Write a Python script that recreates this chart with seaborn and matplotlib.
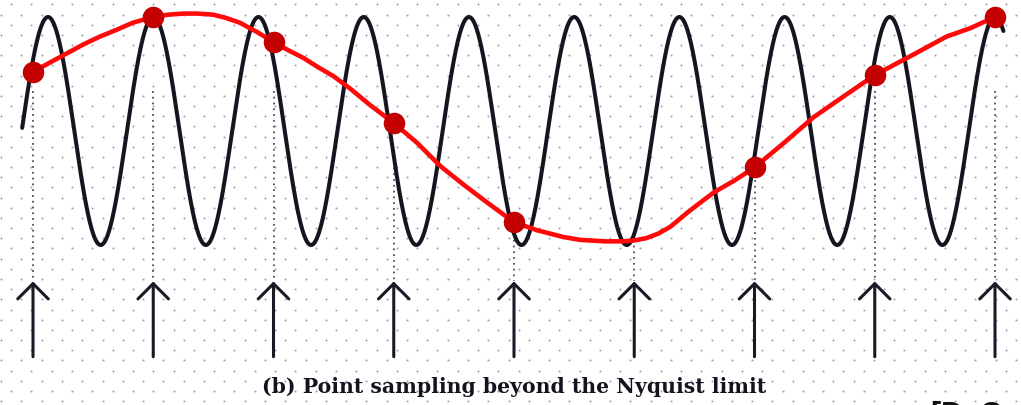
import numpy as np
import matplotlib
matplotlib.use("Agg")
import matplotlib.pyplot as plt
import seaborn as sns

# ---------------- data ----------------
# sampling instants (one sampling interval = 1 unit)
sample_t = [0, 1, 2, 3, 4, 5, 6, 7, 8]

# red sample markers (no marker drawn at sample 5 in the reference)
marker_t = [0, 1, 2, 3, 4, 6, 7, 8]
marker_v = [0.52, 1.00, 0.78, 0.07, -0.80, -0.32, 0.49, 1.00]

# red aliased curve
red_t = [0.00, 0.14, 0.28, 0.42, 0.56, 0.70, 0.83, 1.00, 1.12, 1.25, 1.37,
         1.50, 1.61, 1.72, 1.86, 2.00, 2.12, 2.25, 2.37, 2.50, 2.64, 2.80,
         3.00, 3.19, 3.39, 3.58, 3.78, 4.00, 4.19, 4.41, 4.55, 4.76, 4.91,
         5.00, 5.10, 5.20, 5.30, 5.46, 5.66, 5.84, 6.00, 6.25, 6.49, 6.75,
         7.00, 7.16, 7.32, 7.46, 7.60, 7.79, 8.00]
red_v = [0.52, 0.60, 0.68, 0.76, 0.83, 0.89, 0.95, 1.00, 1.02, 1.03, 1.03,
         1.02, 0.99, 0.95, 0.87, 0.78, 0.71, 0.64, 0.56, 0.48, 0.37, 0.23,
         0.07, -0.10, -0.31, -0.47, -0.63, -0.80, -0.87, -0.93, -0.955,
         -0.968, -0.968, -0.96, -0.94, -0.90, -0.84, -0.70, -0.54, -0.43,
         -0.32, -0.10, 0.12, 0.31, 0.49, 0.58, 0.67, 0.75, 0.83, 0.90, 1.00]

# high-frequency black signal: parameters
signal_cycles_per_sample = 1.1428   # about 8 cycles every 7 samples
signal_peak_t = 1.0                 # a crest lines up with sample 1
signal_start_t = -0.09
signal_end_t = 8.07

caption = "(b) Point sampling beyond the Nyquist limit"
credit = "[D. C"

# ---------------- figure ----------------
W, H = 1021, 405
sns.set_theme(style="white")
fig = plt.figure(figsize=(W / 100, H / 100), dpi=100)
fig.patch.set_facecolor("white")

# dotted paper background (pixel coordinates)
bg = fig.add_axes([0, 0, 1, 1])
bg.set_xlim(0, W)
bg.set_ylim(H, 0)
bg.axis("off")
row_gap, col_gap = 10.17, 20.3
rows = np.arange(4.4, H, row_gap)
dx, dy = [], []
for i, ry in enumerate(rows):
    off = 0 if i % 2 else col_gap / 2
    xs = np.arange(off + 1.0, W, col_gap)
    dx.extend(xs)
    dy.extend([ry] * len(xs))
bg.scatter(dx, dy, s=2.2, color="#a3a3b3", linewidths=0, zorder=0)

# main axes in signal units
ax = fig.add_axes([0, 0, 1, 1])
ax.patch.set_alpha(0)
x_per_px = 1 / 120.25
y_per_px = 1 / 114.0
ax.set_xlim(-33 * x_per_px, (W - 33) * x_per_px)
ax.set_ylim((131 - H) * y_per_px, 131 * y_per_px)
ax.axis("off")

arrow_tip = -1.32
arrow_base = -1.98

# black high-frequency signal
t = np.linspace(signal_start_t, signal_end_t, 3000)
sig = np.cos(2 * np.pi * signal_cycles_per_sample * (t - signal_peak_t))
sns.lineplot(x=t, y=sig, ax=ax, color="#15151f", linewidth=2.9,
             sort=False, estimator=None, zorder=3)

# dotted drop lines from each sample to its arrow
for st in sample_t:
    v = np.cos(2 * np.pi * signal_cycles_per_sample * (st - signal_peak_t))
    ax.plot([st, st], [min(v, 0.35), arrow_tip], color="#50505e",
            linewidth=1.3, linestyle=(0, (1.0, 2.2)), zorder=2)

# sampling arrows
for st in sample_t:
    ax.annotate("", xy=(st, arrow_tip), xytext=(st, arrow_base),
                arrowprops=dict(arrowstyle="->,head_length=0.55,head_width=0.55",
                                color="#1a1a26", lw=2.2, mutation_scale=20,
                                shrinkA=0, shrinkB=0),
                zorder=3)

# red aliased curve and sample markers
sns.lineplot(x=red_t, y=red_v, ax=ax, color="#ff0a0a", linewidth=3.3,
             sort=False, estimator=None, zorder=4)
ax.lines[-1].set_solid_joinstyle("round")
ax.lines[-1].set_solid_capstyle("round")
sns.scatterplot(x=marker_t, y=marker_v, ax=ax, color="#c40000", s=240,
                linewidth=0, zorder=5)

# caption and credit
fig.text(514 / W, 1 - 387 / H, caption, ha="center", va="center",
         fontsize=14.7, fontweight="bold", family="DejaVu Serif",
         color="#141420")
fig.text(931 / W, 1 - 401 / H, credit, ha="left", va="top",
         fontsize=22, fontweight="bold", family="Liberation Sans",
         color="#111111")

fig.savefig("out.png", dpi=100, facecolor="white")
